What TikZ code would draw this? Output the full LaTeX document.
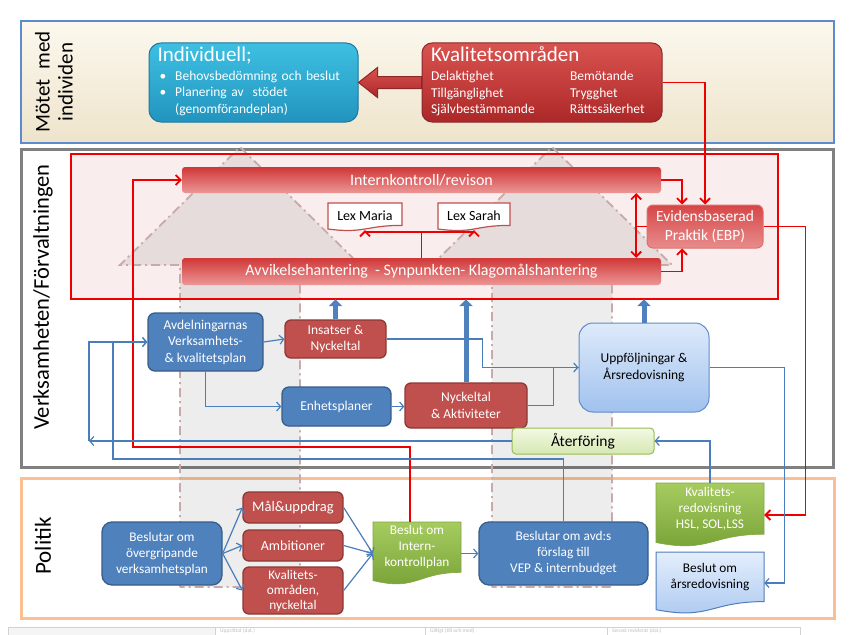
\documentclass[tikz,border=0pt]{standalone}
\usepackage{fontspec}
\setmainfont{Carlito}
\usetikzlibrary{arrows.meta,calc,positioning}

\definecolor{planblue}{RGB}{79,129,189}
\definecolor{planblueline}{RGB}{56,93,138}
\definecolor{planred}{RGB}{192,80,77}
\definecolor{planredline}{RGB}{140,56,54}
\definecolor{linkblue}{RGB}{74,126,187}
\definecolor{linkred}{RGB}{238,0,0}
\definecolor{framegray}{RGB}{128,128,128}
\definecolor{frameblue}{RGB}{92,140,205}
\definecolor{frameorange}{RGB}{250,192,148}
\definecolor{bigarrowline}{RGB}{200,170,170}
\definecolor{forbfill}{RGB}{249,237,237}
\definecolor{beigeTop}{RGB}{252,248,238}
\definecolor{beigeBot}{RGB}{238,228,204}
\definecolor{barTop}{RGB}{208,55,55}
\definecolor{barBot}{RGB}{236,150,150}
\definecolor{ebpTop}{RGB}{214,70,70}
\definecolor{ebpBot}{RGB}{232,140,140}
\definecolor{ebpLine}{RGB}{225,110,110}
\definecolor{kvalTop}{RGB}{217,83,79}
\definecolor{kvalBot}{RGB}{172,40,40}
\definecolor{kvalLine}{RGB}{140,40,40}
\definecolor{indTop}{RGB}{62,192,226}
\definecolor{indBot}{RGB}{34,148,190}
\definecolor{indLine}{RGB}{30,120,160}
\definecolor{uppfTop}{RGB}{222,234,250}
\definecolor{uppfBot}{RGB}{160,194,238}
\definecolor{uppfLine}{RGB}{96,140,200}
\definecolor{aterTop}{RGB}{242,249,228}
\definecolor{aterBot}{RGB}{214,232,178}
\definecolor{aterLine}{RGB}{155,187,89}
\definecolor{greenTop}{RGB}{166,204,96}
\definecolor{greenBot}{RGB}{118,160,52}
\definecolor{greenLine}{RGB}{130,165,70}
\definecolor{arsTop}{RGB}{228,238,252}
\definecolor{arsBot}{RGB}{170,200,240}
\definecolor{arsLine}{RGB}{80,125,190}
\definecolor{lexLine}{RGB}{192,80,77}

% document shape: left, top, right, bottom
\newcommand{\docpath}[4]{(#1,#2) -- (#3,#2) -- (#3,{#2+0.8*(#4-#2)}) .. controls ({(#1+#3)/2},{#2+0.8*(#4-#2)}) and ({(#1+#3)/2},{#2+1.1*(#4-#2)}) .. (#1,{#2+0.93*(#4-#2)}) -- cycle}

\begin{document}
\begin{tikzpicture}[x=1pt,y=-1pt,
  every node/.style={inner sep=0pt,align=center,font=\fontsize{13.5}{16.5}\selectfont},
  sz/.style 2 args={minimum width=#1,minimum height=#2},
  bluebox/.style={rectangle,rounded corners=7pt,fill=planblue,draw=planblueline,line width=1.3pt,text=white},
  redbox/.style={rectangle,rounded corners=6pt,fill=planred,draw=planredline,line width=1.3pt,text=white},
  redbar/.style={rectangle,rounded corners=3pt,top color=barTop,bottom color=barBot,text=white,font=\fontsize{16}{18}\selectfont},
  docnode/.style={text depth=15pt},
  lexdoc/.style={fill=white,draw=lexLine,line width=1.2pt},
  greendoc/.style={top color=greenTop,bottom color=greenBot,draw=greenLine,line width=0.6pt},
  arsdoc/.style={top color=arsTop,bottom color=arsBot,draw=arsLine,line width=1pt},
  bigarrow/.style={fill=black,fill opacity=0.07,draw=bigarrowline,line width=1.8pt,dash pattern=on 9pt off 4pt on 2pt off 4pt},
  sidelabel/.style={rotate=90,font=\fontsize{21}{23}\selectfont},
  bluelink/.style={draw=linkblue,line width=1.2pt,-{Straight Barb[length=4pt,width=9pt]}},
  redlink/.style={draw=linkred,line width=1.8pt,-{Straight Barb[length=5pt,width=10pt]}},
  fatarrow/.style={draw=planblue,line width=5pt,-{Triangle[length=7pt,width=13pt]}}]

  \useasboundingbox (0,0) rectangle (861,634);
  \fill[white] (0,0) rectangle (861,634);

  % the three levels
  \path[draw=frameblue,line width=2.5pt,top color=beigeTop,bottom color=beigeBot] (21,21) rectangle (834,143);
  \draw[draw=framegray,line width=3pt] (21,149) rectangle (833,467);
  \draw[draw=frameorange,line width=3pt] (21,478) rectangle (834,618);

  \node[sidelabel] (lblmote) at (54,82) {Mötet\ \ med\\individen};
  \node[sidelabel,font=\fontsize{22.5}{25}\selectfont] (lblverk) at (43,297) {Verksamheten/Förvaltningen};
  \node[sidelabel,font=\fontsize{23}{27}\selectfont] (lblforb) at (105,224) {Förbättrings-\\arbete};
  \node[sidelabel,font=\fontsize{23}{25}\selectfont] (lblpol) at (43,546) {Politik};

  % förbättringsarbete
  \node[sz={707}{145},fill=forbfill] (forb) at (424.5,226.5) {};
  \foreach \dx in {0,312}
    \draw[bigarrow,xshift=\dx] (180,587) -- (180,265) -- (120,265) -- (240,147) -- (360,265) -- (300,265) -- (300,587) -- cycle;
  \draw[draw=linkred,line width=2pt] (forb.north west) rectangle (forb.south east);

  % mötet med individen
  \node[sz={209}{79},rounded corners=12pt,top color=indTop,bottom color=indBot,draw=indLine,line width=1pt,
        text=white,align=left,text width=192pt,font=\fontsize{13.5}{16.5}\selectfont] (indiv) at (253.5,82.5)
    {{\fontsize{21}{22}\selectfont Individuell;}\\[2pt]
     \begin{tabular}[t]{@{\hspace{2pt}}l@{\hspace{9pt}}l@{}}
     \textbullet & Behovsbedömning och beslut\\
     \textbullet & Planering av\ \ stödet\\
      & (genomförandeplan)
     \end{tabular}};
  \node[sz={240}{79},rounded corners=10pt,top color=kvalTop,bottom color=kvalBot,draw=kvalLine,line width=1pt,
        text=white,align=left,text width=222pt,font=\fontsize{13.5}{16.5}\selectfont] (kval) at (542,82.5)
    {{\fontsize{21}{22}\selectfont Kvalitetsområden}\\[3pt]
     \begin{tabular}[t]{@{}p{139pt}@{}l@{}}
     Delaktighet & Bemötande\\
     Tillgänglighet & Trygghet\\
     Självbestämmande & Rättssäkerhet
     \end{tabular}};
  \path[top color=kvalTop,bottom color=kvalBot,draw=kvalLine,line width=1pt]
    ($(kval.west)+(0,-6)$) -- ++(-44,0) -- ++(0,-9) -- (indiv.east) -- ($(kval.west)+(-44,15)$) -- ++(0,-9) -- ($(kval.west)+(0,6)$) -- cycle;

  \node[redbar,sz={479}{26}] (intk) at (421.5,180) {Internkontroll/revison};
  \node[redbar,sz={479}{27}] (avvik) at (421.5,271.5) {Avvikelsehantering\ \ - Synpunkten- Klagomålshantering};
  \path[lexdoc] \docpath{328}{203}{402}{231};
  \node[sz={74}{28},font=\fontsize{14}{16}\selectfont] (lexm) at (365,216) {Lex Maria};
  \path[lexdoc] \docpath{438}{203}{510}{231};
  \node[sz={72}{28},font=\fontsize{14}{16}\selectfont] (lexs) at (474,216) {Lex Sarah};
  \node[sz={116}{43},rounded corners=6pt,top color=ebpTop,bottom color=ebpBot,draw=ebpLine,line width=1pt,
        text=white,font=\fontsize{15.5}{19}\selectfont] (ebp) at (705,226.5) {Evidensbaserad\\Praktik (EBP)};

  % verksamheten
  \node[bluebox,sz={115}{58}] (avd) at (205.5,342) {Avdelningarnas\\Verksamhets-\\\& kvalitetsplan};
  \node[redbox,sz={101}{38}] (insats) at (335.5,339) {Insatser \&\\Nyckeltal};
  \node[bluebox,sz={109}{39}] (enh) at (336.5,406.5) {Enhetsplaner};
  \node[redbox,sz={122}{45}] (nyak) at (466,405.5) {Nyckeltal\\\& Aktiviteter};
  \node[sz={130}{89},rounded corners=14pt,top color=uppfTop,bottom color=uppfBot,draw=uppfLine,line width=1pt] (uppf) at (644,367.5) {Uppföljningar \&\\Årsredovisning};
  \node[sz={142}{26},rounded corners=4pt,top color=aterTop,bottom color=aterBot,draw=aterLine,line width=1pt,
        font=\fontsize{15.5}{17}\selectfont] (ater) at (583,441) {Återföring};

  % politik
  \node[bluebox,sz={120}{63},rounded corners=10pt,font=\fontsize{13.3}{16}\selectfont] (ovg) at (162,553.5) {Beslutar om\\övergripande\\verksamhetsplan};
  \node[redbox,sz={100}{31},font=\fontsize{14.5}{16}\selectfont] (mal) at (293,507.5) {Mål\&uppdrag};
  \node[redbox,sz={100}{31},font=\fontsize{14}{16}\selectfont] (amb) at (293,545.5) {Ambitioner};
  \node[redbox,sz={100}{47},font=\fontsize{13.3}{15}\selectfont] (kvo) at (293,590.5) {Kvalitets-\\områden,\\nyckeltal};
  \path[greendoc] \docpath{373}{522}{461}{585};
  \node[docnode,sz={88}{63},text=white,font=\fontsize{13.3}{16}\selectfont] (bik) at (417,553.5) {Beslut om\\Intern-\\kontrollplan};
  \node[bluebox,sz={169}{63},rounded corners=10pt,font=\fontsize{13.3}{16}\selectfont] (besavd) at (563.5,553.5) {Beslutar om avd:s\\förslag till\\VEP \& internbudget};
  \path[greendoc] \docpath{656}{483}{764}{547};
  \node[docnode,sz={108}{64},text=white,font=\fontsize{13.3}{16}\selectfont] (kvred) at (710,515) {Kvalitets-\\redovisning\\HSL, SOL,LSS};
  \path[arsdoc] \docpath{656}{552}{764}{614};
  \node[docnode,sz={108}{62},font=\fontsize{13.3}{16}\selectfont] (arsred) at (710,583) {Beslut om\\årsredovisning};

  \coordinate (redturn) at (133,447);
  \coordinate (loopL) at (89,441);
  \coordinate (loopB) at (113,459);

  % red connectors
  \draw[redlink] (kval.east) -| (ebp.north);
  \draw[redlink] (intk.east) -| ([xshift=-23pt]ebp.north);
  \draw[redlink] (avvik.east) -| ([xshift=-23pt]ebp.south);
  \draw[redlink,{Straight Barb[length=5pt,width=10pt]}-{Straight Barb[length=5pt,width=10pt]}]
    ([xshift=-25pt]intk.south east) -- ([xshift=-25pt]avvik.north east);
  \draw[redlink,-] (ebp.west) -- ++(-11,0);
  \draw[redlink] (avvik.north) -- ++(0,-26) -| (lexm.south);
  \draw[redlink] ($(avvik.north)+(0,-26)$) -| (lexs.south);
  \draw[redlink] ([xshift=-7pt]bik.north) |- (redturn) |- (intk.west);
  \draw[redlink] (ebp.east) -- ++(42,0) |- (kvred.east);

  % blue connectors
  \draw[bluelink] (avd.east) -- (insats.west);
  \draw[bluelink] (avd.south) |- (enh.west);
  \draw[bluelink] (enh.east) -- (enh.east -| nyak.west);
  \draw[bluelink] (insats.east) -- ++(96,0) |- (uppf.west);
  \draw[bluelink,-] (nyak.east) -- ++(26,0) |- (uppf.west);
  \draw[bluelink] (ater.west) -- (loopL);
  \draw[bluelink] (loopL) |- (avd.west);
  \draw[bluelink] (besavd.north) |- (loopB) |- (avd.west);
  \draw[bluelink] (uppf.east) -- ++(75,0) |- (arsred.east);
  \draw[bluelink] (kvred.north) |- (ater.east);
  \foreach \dest in {mal,amb,kvo}
    \draw[bluelink] (ovg.east) -- (\dest.west);
  \foreach \source in {mal,amb,kvo}
    \draw[bluelink] (\source.east) -- (bik.west);
  \draw[bluelink] (bik.east) -- (besavd.west);
  \foreach \source in {insats,nyak,uppf}
    \draw[fatarrow] (\source.north) -- (\source.north |- forb.south);

  % table below (cut off)
  \fill[gray!8] (8,627) rectangle (215,640);
  \draw[gray!35] (8,640) |- (800,627) -- (800,640);
  \foreach \x in {215,425,607}
    \draw[gray!35] (\x,627) -- (\x,640);
  \node[anchor=north west,text=gray!50,font=\fontsize{5.5}{6}\selectfont] (tupp) at (220,627.8) {Upprättat (dat.)};
  \node[anchor=north west,text=gray!50,font=\fontsize{5.5}{6}\selectfont] (tgil) at (430,627.8) {Giltigt (till och med)};
  \node[anchor=north west,text=gray!50,font=\fontsize{5.5}{6}\selectfont] (tsen) at (612,627.8) {Senast reviderat (dat.)};
\end{tikzpicture}
\end{document}
